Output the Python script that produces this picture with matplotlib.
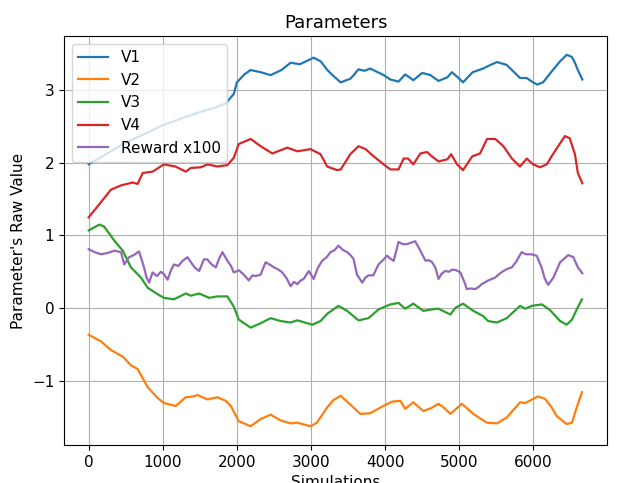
import numpy as np
import matplotlib
matplotlib.use("Agg")
import matplotlib.pyplot as plt

# values (x = simulation number)
v1_x = [0, 200, 500, 800, 1000, 1300, 1500, 1700, 1850, 1957, 2000, 2100, 2185, 2320, 2455, 2600, 2724, 2850, 3035, 3130, 3220, 3300, 3400, 3530, 3575, 3640, 3720, 3800, 3900, 3980, 4070, 4180, 4270, 4380, 4500, 4610, 4720, 4840, 4900, 4980, 5050, 5180, 5320, 5420, 5510, 5640, 5730, 5820, 5910, 5980, 6050, 6130, 6200, 6270, 6360, 6450, 6520, 6560, 6600, 6660]
v1_y = [1.98, 2.10, 2.28, 2.42, 2.52, 2.63, 2.70, 2.76, 2.82, 2.95, 3.11, 3.22, 3.28, 3.25, 3.21, 3.28, 3.38, 3.36, 3.45, 3.40, 3.28, 3.20, 3.11, 3.16, 3.21, 3.29, 3.27, 3.30, 3.25, 3.21, 3.15, 3.12, 3.22, 3.14, 3.24, 3.21, 3.13, 3.18, 3.25, 3.18, 3.11, 3.25, 3.30, 3.35, 3.39, 3.35, 3.26, 3.17, 3.17, 3.12, 3.08, 3.11, 3.20, 3.29, 3.40, 3.49, 3.46, 3.38, 3.28, 3.15]

v2_x = [0, 167, 300, 460, 570, 660, 795, 930, 1015, 1175, 1310, 1400, 1468, 1603, 1738, 1850, 1917, 2025, 2185, 2320, 2455, 2590, 2724, 2815, 2993, 3080, 3218, 3300, 3400, 3530, 3665, 3800, 3975, 4095, 4205, 4270, 4380, 4515, 4620, 4720, 4800, 4880, 5035, 5190, 5370, 5510, 5640, 5820, 5890, 6060, 6155, 6240, 6315, 6450, 6520, 6585, 6655]
v2_y = [-0.37, -0.46, -0.58, -0.67, -0.79, -0.84, -1.09, -1.24, -1.31, -1.35, -1.23, -1.22, -1.20, -1.26, -1.23, -1.28, -1.35, -1.56, -1.63, -1.53, -1.47, -1.55, -1.59, -1.58, -1.63, -1.58, -1.37, -1.27, -1.21, -1.33, -1.46, -1.45, -1.35, -1.29, -1.28, -1.39, -1.30, -1.42, -1.38, -1.32, -1.38, -1.46, -1.32, -1.46, -1.58, -1.59, -1.51, -1.30, -1.31, -1.22, -1.25, -1.36, -1.49, -1.60, -1.58, -1.37, -1.16]

v3_x = [0, 145, 210, 345, 460, 570, 705, 795, 930, 1015, 1150, 1310, 1378, 1490, 1625, 1738, 1872, 1957, 2025, 2185, 2320, 2455, 2590, 2724, 2815, 3017, 3128, 3218, 3370, 3488, 3640, 3775, 3910, 4070, 4180, 4270, 4380, 4515, 4620, 4720, 4880, 4945, 5050, 5190, 5320, 5390, 5510, 5640, 5820, 5890, 5980, 6115, 6225, 6360, 6450, 6520, 6585, 6655]
v3_y = [1.07, 1.15, 1.12, 0.93, 0.79, 0.56, 0.42, 0.28, 0.19, 0.14, 0.12, 0.20, 0.17, 0.20, 0.14, 0.16, 0.16, 0.02, -0.16, -0.27, -0.21, -0.14, -0.18, -0.20, -0.17, -0.23, -0.18, -0.08, 0.03, -0.04, -0.17, -0.14, -0.02, 0.05, 0.07, -0.01, 0.06, -0.04, -0.02, -0.01, -0.09, 0.00, 0.06, -0.04, -0.11, -0.18, -0.20, -0.14, 0.03, -0.01, 0.03, 0.05, -0.03, -0.18, -0.23, -0.16, -0.02, 0.12]

v4_x = [0, 167, 300, 436, 593, 660, 728, 862, 1015, 1170, 1310, 1378, 1513, 1603, 1738, 1872, 1957, 2025, 2185, 2320, 2478, 2680, 2815, 2993, 3128, 3218, 3352, 3400, 3530, 3640, 3735, 3845, 3980, 4070, 4180, 4250, 4310, 4380, 4475, 4565, 4630, 4720, 4840, 4890, 4970, 5050, 5175, 5280, 5375, 5485, 5595, 5710, 5820, 5910, 5995, 6090, 6180, 6270, 6425, 6490, 6560, 6600, 6660]
v4_y = [1.25, 1.46, 1.63, 1.69, 1.73, 1.71, 1.86, 1.88, 1.98, 1.95, 1.88, 1.93, 1.94, 1.98, 1.95, 1.97, 2.07, 2.26, 2.33, 2.23, 2.13, 2.21, 2.16, 2.19, 2.12, 1.95, 1.90, 1.91, 2.12, 2.23, 2.19, 2.09, 1.98, 1.91, 1.91, 2.06, 2.06, 1.98, 2.13, 2.15, 2.09, 2.02, 2.05, 2.12, 1.98, 1.90, 2.09, 2.13, 2.33, 2.33, 2.23, 2.06, 1.95, 2.06, 1.98, 1.94, 1.98, 2.13, 2.37, 2.34, 2.12, 1.86, 1.72]

reward_x = [0, 80, 167, 260, 345, 436, 480, 545, 610, 680, 747, 780, 815, 862, 920, 975, 1020, 1065, 1110, 1150, 1210, 1266, 1333, 1400, 1440, 1490, 1555, 1600, 1660, 1715, 1760, 1805, 1872, 1920, 1957, 2030, 2092, 2160, 2210, 2253, 2320, 2387, 2440, 2500, 2560, 2612, 2670, 2724, 2770, 2815, 2860, 2900, 2970, 3035, 3090, 3150, 3210, 3263, 3320, 3370, 3430, 3488, 3540, 3575, 3620, 3690, 3735, 3775, 3840, 3910, 3970, 4025, 4070, 4115, 4180, 4240, 4295, 4350, 4405, 4475, 4545, 4590, 4635, 4680, 4720, 4760, 4810, 4860, 4905, 4960, 5015, 5080, 5100, 5160, 5215, 5260, 5305, 5390, 5440, 5485, 5540, 5595, 5650, 5710, 5775, 5840, 5900, 5975, 6045, 6110, 6155, 6200, 6270, 6360, 6470, 6540, 6600, 6660]
reward_y = [0.81, 0.77, 0.74, 0.76, 0.79, 0.77, 0.60, 0.70, 0.73, 0.78, 0.56, 0.42, 0.35, 0.49, 0.44, 0.50, 0.46, 0.39, 0.52, 0.60, 0.58, 0.65, 0.70, 0.60, 0.55, 0.51, 0.67, 0.67, 0.60, 0.56, 0.68, 0.77, 0.65, 0.58, 0.49, 0.52, 0.46, 0.38, 0.45, 0.44, 0.46, 0.63, 0.60, 0.56, 0.53, 0.49, 0.41, 0.30, 0.36, 0.33, 0.38, 0.40, 0.51, 0.40, 0.55, 0.65, 0.70, 0.77, 0.80, 0.86, 0.80, 0.77, 0.72, 0.67, 0.46, 0.35, 0.42, 0.45, 0.45, 0.60, 0.66, 0.72, 0.68, 0.65, 0.91, 0.88, 0.88, 0.90, 0.92, 0.79, 0.65, 0.66, 0.63, 0.55, 0.40, 0.47, 0.51, 0.50, 0.53, 0.52, 0.49, 0.33, 0.26, 0.27, 0.26, 0.29, 0.33, 0.38, 0.40, 0.42, 0.47, 0.51, 0.54, 0.56, 0.65, 0.77, 0.74, 0.74, 0.72, 0.56, 0.40, 0.32, 0.42, 0.63, 0.73, 0.70, 0.56, 0.48]

plt.rcParams['font.size'] = 11
plt.rcParams['lines.linewidth'] = 1.6

fig = plt.figure(figsize=(6.25, 4.83), dpi=100)
ax = fig.add_axes([0.1024, 0.079, 0.8688, 0.846])

ax.plot(v1_x, v1_y, label="V1")
ax.plot(v2_x, v2_y, label="V2")
ax.plot(v3_x, v3_y, label="V3")
ax.plot(v4_x, v4_y, label="V4")
ax.plot(reward_x, reward_y, label="Reward x100")

ax.set_title("Parameters", fontsize=13)
ax.set_xlabel("Simulations")
ax.set_ylabel("Parameter's Raw Value")
ax.grid(True)
ax.legend(loc="upper left")

fig.savefig("out.png", dpi=100)
